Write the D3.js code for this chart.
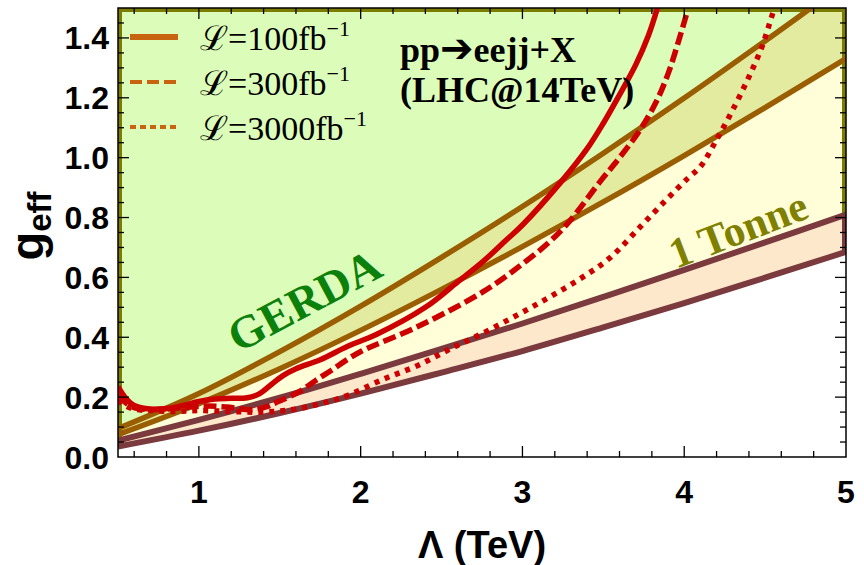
<!DOCTYPE html>
<html>
<head>
<meta charset="utf-8">
<script src="https://cdn.jsdelivr.net/npm/d3@7"></script>
<style>
  body { margin: 0; background: #fff; }
</style>
</head>
<body>
<script>
// band edges (g_eff) read at these Lambda values (TeV)
var lambdaGrid = [0.5, 1, 1.5, 2, 2.5, 3, 3.5, 4, 4.5, 5];
var gerdaUpper = [0.095, 0.212, 0.352, 0.504, 0.667, 0.837, 1.015, 1.199, 1.39, 1.585];
var gerdaLower = [0.075, 0.178, 0.295, 0.423, 0.56, 0.703, 0.852, 1.007, 1.167, 1.331];
var tonneUpper = [0.055, 0.124, 0.198, 0.278, 0.361, 0.446, 0.535, 0.625, 0.717, 0.81];
var tonneLower = [0.035, 0.088, 0.147, 0.212, 0.282, 0.354, 0.433, 0.514, 0.599, 0.685];

// LHC reach curves, [Lambda, g_eff]
var lumi100 = [[0.5,0.235],[0.55,0.195],[0.6,0.172],[0.7,0.16],[0.8,0.162],[0.9,0.172],[1.0,0.186],
  [1.1,0.194],[1.2,0.196],[1.3,0.198],[1.37,0.21],[1.45,0.243],[1.52,0.272],[1.6,0.295],[1.75,0.325],
  [1.92,0.37],[2.1,0.41],[2.4,0.5],[2.6,0.585],[2.75,0.65],[2.9,0.725],[3.0,0.775],[3.24,0.92],
  [3.4,1.03],[3.5,1.115],[3.6,1.21],[3.7,1.31],[3.78,1.41],[3.84,1.51]];
var lumi300 = [[0.5,0.205],[0.55,0.18],[0.6,0.165],[0.7,0.158],[0.8,0.16],[0.9,0.165],[1.04,0.17],
  [1.17,0.167],[1.33,0.158],[1.42,0.168],[1.49,0.185],[1.62,0.218],[1.72,0.255],[1.82,0.29],
  [1.93,0.33],[2.01,0.355],[2.35,0.435],[2.76,0.553],[3.0,0.645],[3.17,0.72],[3.29,0.787],
  [3.48,0.92],[3.6,1.0],[3.73,1.095],[3.83,1.19],[3.9,1.28],[3.96,1.38],[4.02,1.49]];
var lumi3000 = [[0.5,0.19],[0.55,0.17],[0.6,0.16],[0.7,0.155],[0.85,0.152],[1.0,0.155],[1.2,0.152],
  [1.4,0.15],[1.6,0.16],[1.8,0.185],[1.93,0.208],[2.14,0.26],[2.35,0.305],[2.55,0.36],[2.76,0.415],
  [2.97,0.475],[3.17,0.535],[3.37,0.6],[3.54,0.665],[3.73,0.77],[3.89,0.86],[4.02,0.93],[4.1,0.97],
  [4.2,1.06],[4.3,1.16],[4.4,1.27],[4.48,1.37],[4.54,1.47],[4.57,1.52]];

var xTicks = [1, 2, 3, 4, 5];
var yTicks = [0, 0.2, 0.4, 0.6, 0.8, 1.0, 1.2, 1.4];
var yTickLabels = ["0.0", "0.2", "0.4", "0.6", "0.8", "1.0", "1.2", "1.4"];
var legendLumi = ["100", "300", "3000"];

var width = 864, height = 565;
var pL = 118, pR = 846, pT = 8, pB = 457;

var x = d3.scaleLinear().domain([0.5, 5]).range([pL, pR]);
var y = d3.scaleLinear().domain([0, 1.5]).range([pB, pT]);

var svg = d3.select("body").append("svg")
    .attr("width", width)
    .attr("height", height);

svg.append("clipPath").attr("id", "plot")
  .append("rect")
    .attr("x", pL).attr("y", pT)
    .attr("width", pR - pL).attr("height", pB - pT);

var plot = svg.append("g").attr("clip-path", "url(#plot)");

function pts(arr) { return lambdaGrid.map(function (l, i) { return [l, arr[i]]; }); }

var line = d3.line()
    .x(function (d) { return x(d[0]); })
    .y(function (d) { return y(d[1]); })
    .curve(d3.curveCatmullRom);

// area from an edge down to the bottom of the frame
var below = d3.area()
    .x(function (d) { return x(d[0]); })
    .y0(pB + 10)
    .y1(function (d) { return y(d[1]); })
    .curve(d3.curveCatmullRom);

var band = d3.area()
    .x(function (d) { return x(d[0]); })
    .y0(function (d) { return y(d[1]); })
    .y1(function (d) { return y(d[2]); })
    .curve(d3.curveCatmullRom);

// background: GERDA excluded region
plot.append("rect")
    .attr("x", pL).attr("y", pT)
    .attr("width", pR - pL).attr("height", pB - pT)
    .attr("fill", "#dcfcb9");

// below GERDA band -> 1 tonne region
plot.append("path").attr("d", below(pts(gerdaLower))).attr("fill", "#fffed9");

// GERDA band
plot.append("path")
    .attr("d", band(lambdaGrid.map(function (l, i) { return [l, gerdaLower[i], gerdaUpper[i]]; })))
    .attr("fill", "#e2eb9f");

// 1 tonne band and the allowed region under it
plot.append("path").attr("d", below(pts(tonneUpper))).attr("fill", "#fde8cb");
plot.append("path").attr("d", below(pts(tonneLower))).attr("fill", "#ffffff");

// olive outline of the 1 tonne region along the frame
var last = lambdaGrid.length - 1;
plot.append("path")
    .attr("d", d3.line()([[x(lambdaGrid[0]), y(tonneUpper[0])], [pL, pT], [pR, pT],
                          [x(lambdaGrid[last]), y(tonneUpper[last])]]))
    .attr("fill", "none").attr("stroke", "#7c7c00").attr("stroke-width", 8);

// maroon 1 tonne band edges, including its ends on the frame
var maroon = "#7b3a3d";
[0, last].forEach(function (i) {
  plot.append("line")
      .attr("x1", x(lambdaGrid[i])).attr("x2", x(lambdaGrid[i]))
      .attr("y1", y(tonneLower[i])).attr("y2", y(tonneUpper[i]))
      .attr("stroke", maroon).attr("stroke-width", 8);
});
[tonneUpper, tonneLower].forEach(function (arr) {
  plot.append("path").attr("d", line(pts(arr)))
      .attr("fill", "none").attr("stroke", maroon).attr("stroke-width", 6);
});

// GERDA band edges
[gerdaUpper, gerdaLower].forEach(function (arr) {
  plot.append("path").attr("d", line(pts(arr)))
      .attr("fill", "none").attr("stroke", "#9a5e00").attr("stroke-width", 5.5);
});

// LHC curves
var red = "#cc0000";
plot.append("path").attr("d", line(lumi100))
    .attr("fill", "none").attr("stroke", red).attr("stroke-width", 5.5);
plot.append("path").attr("d", line(lumi300))
    .attr("fill", "none").attr("stroke", red).attr("stroke-width", 5.5)
    .attr("stroke-dasharray", "13,5");
plot.append("path").attr("d", line(lumi3000))
    .attr("fill", "none").attr("stroke", red).attr("stroke-width", 5.5)
    .attr("stroke-dasharray", "5,6");

// region labels
svg.append("text")
    .attr("transform", "translate(304,300) rotate(-28)")
    .attr("text-anchor", "middle").attr("dy", "0.35em")
    .style("font-family", "Liberation Serif").style("font-weight", "bold")
    .style("font-size", "46px").attr("fill", "#0b800b")
    .text("GERDA");

svg.append("text")
    .attr("transform", "translate(738,229) rotate(-21)")
    .attr("text-anchor", "middle").attr("dy", "0.35em")
    .style("font-family", "Liberation Serif").style("font-weight", "bold")
    .style("font-size", "43px").attr("fill", "#808000")
    .text("1 Tonne");

// process label
var proc = svg.append("g")
    .style("font-family", "Liberation Serif").style("font-weight", "bold")
    .style("font-size", "36px").attr("fill", "#000");
var p1 = proc.append("text").attr("x", 400).attr("y", 62);
p1.append("tspan").text("pp");
p1.append("tspan").style("font-family", "DejaVu Sans").style("font-size", "40px").text("\u2794");
p1.append("tspan").text("eejj+X");
proc.append("text").attr("x", 400).attr("y", 102).text("(LHC@14TeV)");

// legend
var legendColor = "#c8640f";
var legendDash = [null, "12,5", "6,4"];
var legendWidth = [6, 4, 4];
legendLumi.forEach(function (lab, i) {
  var ly = 37 + i * 45;
  svg.append("line")
      .attr("x1", 130).attr("x2", 178).attr("y1", ly).attr("y2", ly)
      .attr("stroke", legendColor).attr("stroke-width", legendWidth[i])
      .attr("stroke-dasharray", legendDash[i]);
  var t = svg.append("text").attr("x", 200).attr("y", ly + 13)
      .style("font-family", "Liberation Serif").style("font-size", "34px").attr("fill", "#000");
  t.append("tspan").text("\u2112=" + lab + "fb");
  t.append("tspan").attr("dy", -14).style("font-size", "22px").text("\u22121");
});

// frame and ticks
svg.append("rect")
    .attr("x", pL).attr("y", pT)
    .attr("width", pR - pL).attr("height", pB - pT)
    .attr("fill", "none").attr("stroke", "#000").attr("stroke-width", 1.5);

var ticks = svg.append("g").attr("stroke", "#000").attr("stroke-width", 1.3);
d3.range(6, 50, 2).map(function (v) { return v / 10; }).forEach(function (v) {
  var major = Math.abs(v - Math.round(v)) < 1e-6;
  var len = major ? 11 : 6;
  ticks.append("line").attr("x1", x(v)).attr("x2", x(v)).attr("y1", pB).attr("y2", pB - len);
  ticks.append("line").attr("x1", x(v)).attr("x2", x(v)).attr("y1", pT).attr("y2", pT + len);
});
d3.range(1, 30).map(function (v) { return v / 20; }).forEach(function (v) {
  var major = (Math.round(v * 20) % 4) === 0;
  var len = major ? 11 : 6;
  ticks.append("line").attr("x1", pL).attr("x2", pL + len).attr("y1", y(v)).attr("y2", y(v));
  ticks.append("line").attr("x1", pR).attr("x2", pR - len).attr("y1", y(v)).attr("y2", y(v));
});

var labelFont = "Liberation Sans";
svg.selectAll(".xlab").data(xTicks).enter().append("text")
    .attr("x", function (d) { return x(d); }).attr("y", 503)
    .attr("text-anchor", "middle")
    .style("font-family", labelFont).style("font-weight", "bold").style("font-size", "32px")
    .text(function (d) { return d; });

svg.selectAll(".ylab").data(yTicks).enter().append("text")
    .attr("x", 109).attr("y", function (d) { return y(d); }).attr("dy", "0.36em")
    .attr("text-anchor", "end")
    .style("font-family", labelFont).style("font-weight", "bold").style("font-size", "32px")
    .text(function (d, i) { return yTickLabels[i]; });

svg.append("text")
    .attr("x", 482).attr("y", 558).attr("text-anchor", "middle")
    .style("font-family", labelFont).style("font-weight", "bold").style("font-size", "38px")
    .text("\u039b (TeV)");

var yl = svg.append("text")
    .attr("transform", "translate(43,226) rotate(-90)")
    .attr("text-anchor", "middle")
    .style("font-family", labelFont).style("font-weight", "bold").style("font-size", "47px");
yl.append("tspan").text("g");
yl.append("tspan").attr("dy", 8).style("font-size", "33px").text("eff");
</script>
</body>
</html>
